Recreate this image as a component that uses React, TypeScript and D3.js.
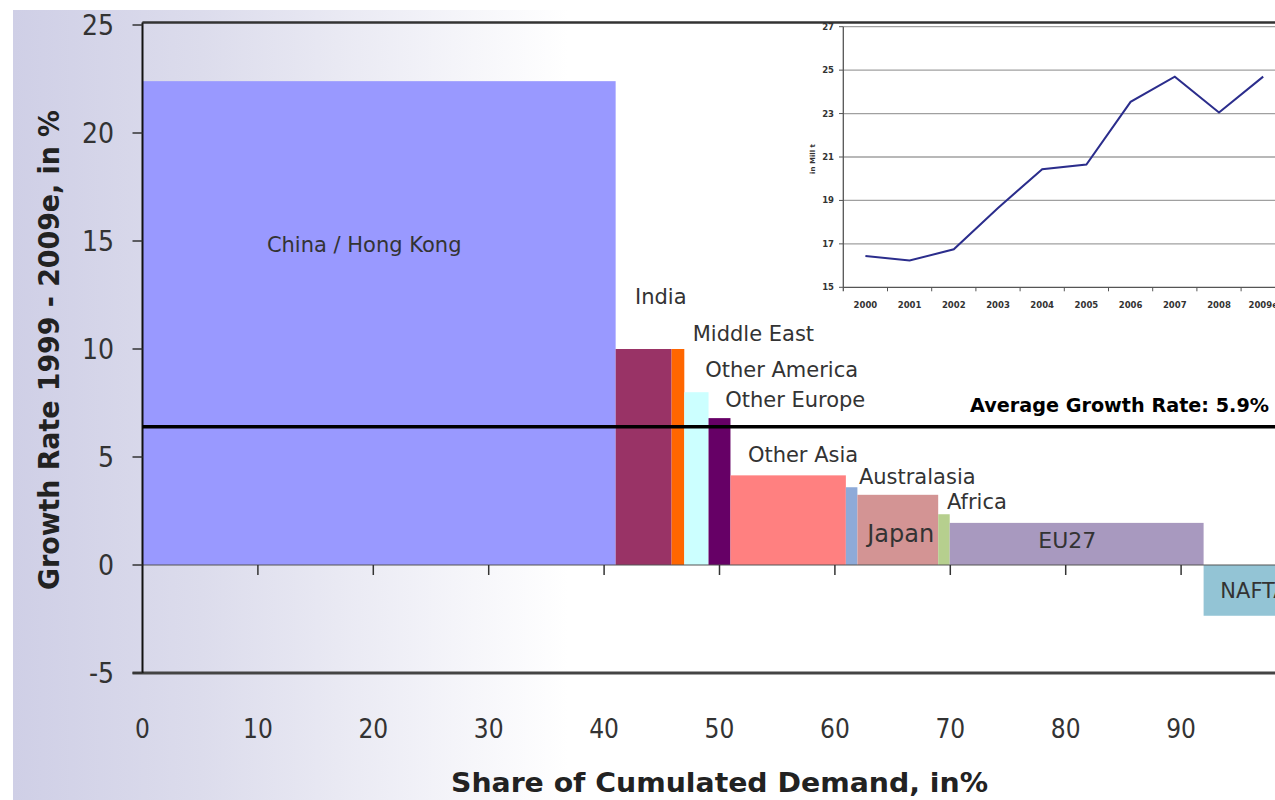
import React from "react";
import * as d3 from "d3";

// ---------- Main chart data ----------
const categories = [
  "China / Hong Kong", "India", "Middle East", "Other America", "Other Europe",
  "Other Asia", "Australasia", "Japan", "Africa", "EU27", "NAFTA",
];
const demandShare = [41.0, 4.85, 1.1, 2.1, 1.9, 10.0, 1.0, 7.0, 1.0, 22.0, 8.0];
const growthRate = [22.4, 10.0, 10.0, 8.0, 6.8, 4.15, 3.6, 3.25, 2.35, 1.95, -2.35];
const averageLinePos = 6.4;
const averageLabel = "Average Growth Rate: 5.9%";
const xTicks = [0, 10, 20, 30, 40, 50, 60, 70, 80, 90];
const yTicks = [-5, 0, 5, 10, 15, 20, 25];
// label anchors (data units: share %, growth %)
const labelShareAt = [10.78, 42.68, 47.68, 48.76, 50.49, 52.46, 62.08, 62.8, 69.71, 77.62, 93.4];
const labelGrowthAt = [14.5, 12.08, 10.37, 8.69, 7.33, 4.78, 3.75, 1.08, 2.59, 0.79, -1.54];

// ---------- Inset data ----------
const insetYears = ["2000", "2001", "2002", "2003", "2004", "2005", "2006", "2007", "2008", "2009e"];
const insetValues = [16.44, 16.23, 16.75, 18.65, 20.44, 20.65, 23.54, 24.7, 23.05, 24.7];
const insetTicks = [15, 17, 19, 21, 23, 25, 27];

// ---------- Styles ----------
const barColors = [
  "#9999ff", "#993366", "#ff6600", "#ccffff", "#660066",
  "#ff8080", "#8eaad8", "#d39494", "#b6cf8e", "#a899bf", "#93c4d5",
];
const labelSizes = [21, 21, 21, 21, 21, 21, 21, 24, 21, 22, 21];

const FONT = "'DejaVu Sans', 'Noto Sans', sans-serif";

export default function App() {
  const W = 1275, H = 800;
  const x = d3.scaleLinear().domain([0, 100]).range([142.5, 1296.5]);
  const y = d3.scaleLinear().domain([-5, 25]).range([673, 25]);

  const starts: number[] = [];
  let acc = 0;
  demandShare.forEach((s) => { starts.push(acc); acc += s; });

  const ix = d3.scaleBand<string>().domain(insetYears).range([843.3, 843.3 + 44.2 * insetYears.length]);
  const iy = d3.scaleLinear().domain([15, 27]).range([287.3, 26.7]);
  const line = d3.line<number>()
    .x((_, i) => (ix(insetYears[i]) as number) + ix.bandwidth() / 2)
    .y((v) => iy(v));

  const plotLeft = x(0);
  const plotTop = 22.5;

  return (
    <div style={{ position: "absolute", left: 0, top: 0 }}>
      <svg width={W} height={H} style={{ display: "block", fontFamily: FONT }}>
        <defs>
          <linearGradient id="bg" x1="0" x2="1" y1="0" y2="0">
            <stop offset="0" stopColor="#cfcfe6" />
            <stop offset="0.15" stopColor="#dcdcec" />
            <stop offset="0.44" stopColor="#ffffff" />
            <stop offset="1" stopColor="#ffffff" />
          </linearGradient>
        </defs>
        <rect x={0} y={0} width={W} height={H} fill="#ffffff" />
        <rect x={13} y={10} width={W - 13} height={H - 10} fill="url(#bg)" />

        {/* bars */}
        {categories.map((c, i) => {
          const x0 = x(starts[i]);
          const x1 = x(starts[i] + demandShare[i]);
          const yv = y(growthRate[i]);
          const y0 = y(0);
          return (
            <rect key={c} x={x0} width={x1 - x0} y={Math.min(yv, y0)} height={Math.abs(y0 - yv)} fill={barColors[i]} />
          );
        })}

        {/* frame & axes */}
        <line x1={plotLeft} x2={W} y1={plotTop} y2={plotTop} stroke="#333" strokeWidth={2} />
        <line x1={plotLeft - 10} x2={W} y1={y(-5)} y2={y(-5)} stroke="#444" strokeWidth={3} />
        <line x1={plotLeft} x2={W} y1={y(0)} y2={y(0)} stroke="#555" strokeWidth={1.2} />
        <line x1={plotLeft} x2={plotLeft} y1={plotTop} y2={y(-5)} stroke="#111" strokeWidth={2} />

        {yTicks.map((t) => (
          <g key={"yt" + t}>
            <line x1={plotLeft - 10} x2={plotLeft} y1={y(t)} y2={y(t)} stroke="#333" strokeWidth={1.5} />
            <text x={114} y={y(t)} dy="0.36em" textAnchor="end" fontSize={28} fill="#333" fontStretch="condensed">{t}</text>
          </g>
        ))}
        {xTicks.map((t) => (
          <g key={"xt" + t}>
            {t > 0 && <line x1={x(t)} x2={x(t)} y1={y(0)} y2={y(0) + 10} stroke="#333" strokeWidth={1.5} />}
            <text x={x(t)} y={738} textAnchor="middle" fontSize={26} fill="#333" fontStretch="condensed">{t}</text>
          </g>
        ))}

        {/* average line */}
        <line x1={plotLeft} x2={W} y1={y(averageLinePos)} y2={y(averageLinePos)} stroke="#000" strokeWidth={3.5} />
        <text x={970} y={411.5} fontSize={19} fontWeight="bold" fill="#000" textLength={299} lengthAdjust="spacingAndGlyphs">{averageLabel}</text>

        {/* bar labels */}
        {categories.map((c, i) => (
          <text key={"lb" + c} x={x(labelShareAt[i])} y={y(labelGrowthAt[i])} fontSize={labelSizes[i]} fill="#333">{c}</text>
        ))}

        {/* axis titles */}
        <text transform={`translate(59,350) rotate(-90)`} textAnchor="middle" fontSize={29} fontWeight="bold" fill="#222" textLength={480} lengthAdjust="spacingAndGlyphs">Growth Rate 1999 - 2009e, in %</text>
        <text x={719.5} y={792} textAnchor="middle" fontSize={26} fontWeight="bold" fill="#222" textLength={537} lengthAdjust="spacingAndGlyphs">Share of Cumulated Demand, in%</text>

        {/* inset chart */}
        <rect x={843.3} y={24} width={W - 843.3} height={287.3 - 24} fill="#ffffff" />
        {insetTicks.map((t) => (
          <g key={"it" + t}>
            <line x1={843.3} x2={W} y1={iy(t)} y2={iy(t)} stroke={t === 15 ? "#555" : "#a0a0a0"} strokeWidth={t === 15 ? 1.3 : 1.3} />
            <line x1={839} x2={843.3} y1={iy(t)} y2={iy(t)} stroke="#555" strokeWidth={1} />
            <text x={834} y={iy(t)} dy="0.36em" textAnchor="end" fontSize={8.5} fontWeight="bold" fill="#333">{t}</text>
          </g>
        ))}
        <line x1={843.3} x2={843.3} y1={iy(27)} y2={iy(15) + 4} stroke="#555" strokeWidth={1.3} />
        {insetYears.map((yr) => (
          <g key={"iy" + yr}>
            <line x1={(ix(yr) as number) + ix.bandwidth()} x2={(ix(yr) as number) + ix.bandwidth()} y1={iy(15)} y2={iy(15) + 4} stroke="#555" strokeWidth={1} />
            <text x={(ix(yr) as number) + ix.bandwidth() / 2} y={308} textAnchor="middle" fontSize={8.5} fontWeight="bold" fill="#333">{yr}</text>
          </g>
        ))}
        <text transform={`translate(815,159) rotate(-90)`} textAnchor="middle" fontSize={7} fontWeight="bold" fill="#333">in Mill t</text>
        <path d={line(insetValues) || ""} fill="none" stroke="#2b2d8c" strokeWidth={2} />
        {/* redraw top frame over inset */}
        <line x1={plotLeft} x2={W} y1={plotTop} y2={plotTop} stroke="#333" strokeWidth={2} />
      </svg>
    </div>
  );
}
